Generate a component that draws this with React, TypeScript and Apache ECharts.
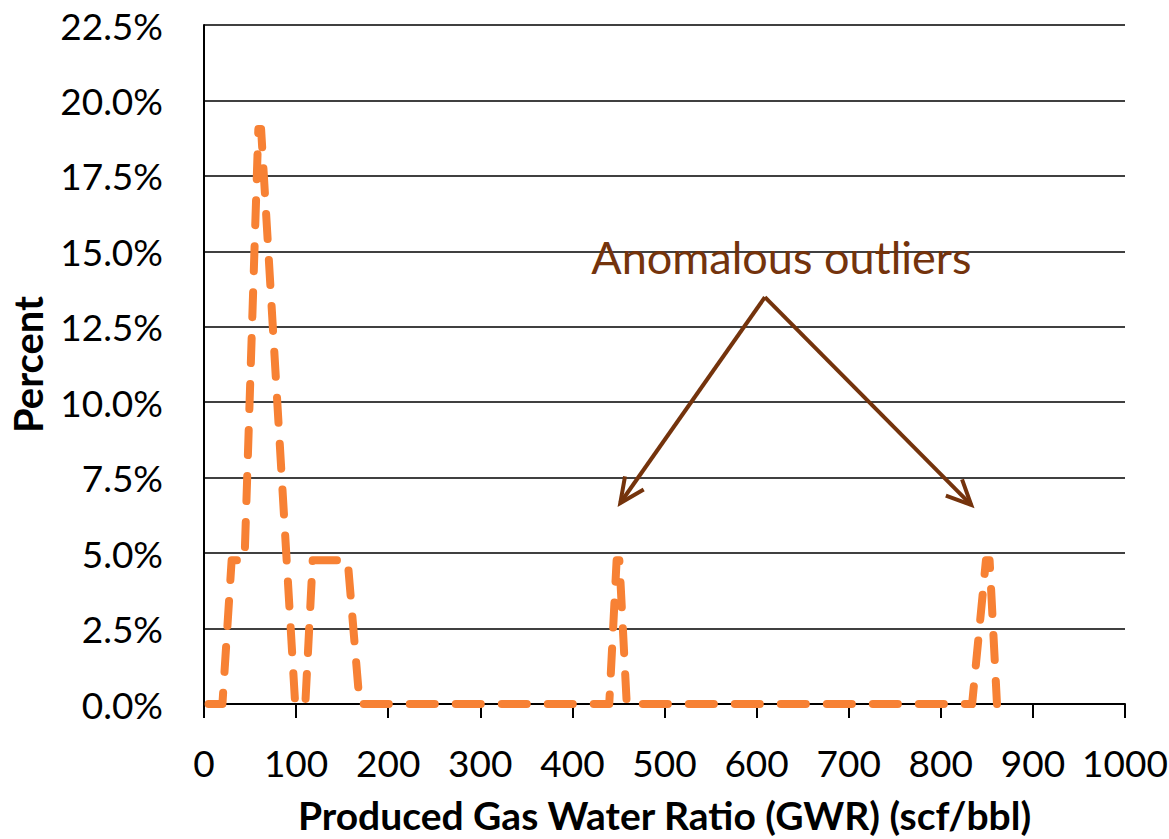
import React, { useEffect, useRef } from "react";
import * as echarts from "echarts";

// Produced gas water ratio (scf/bbl) and percent of samples
const gwrValues = [5, 20, 30, 44, 59, 62, 99, 110, 118, 156, 169, 440, 448, 451, 459, 834, 849, 853, 861];
const percentValues = [0, 0, 4.76, 4.76, 19.05, 19.05, 0, 0, 4.76, 4.76, 0, 0, 4.76, 4.76, 0, 0, 4.76, 4.76, 0];

const xTicks = [0, 100, 200, 300, 400, 500, 600, 700, 800, 900, 1000];
const yTicks = [0, 2.5, 5, 7.5, 10, 12.5, 15, 17.5, 20, 22.5];

// Annotation anchor points in data units
const annotationText = "Anomalous outliers";
const annotationTextAt = [627, 14.8];
const arrowApex = [609, 13.48];
const arrowTips = [
  [452, 6.66],
  [833, 6.6],
];

const ORANGE = "#F78134";
const BROWN = "#74330C";
const FONT = "Lato";

export default function App() {
  const ref = useRef<HTMLDivElement>(null);

  useEffect(() => {
    if (!ref.current) return;
    const chart = echarts.init(ref.current, null, { renderer: "svg" });
    const data = gwrValues.map((x, i) => [x, percentValues[i]]);
    chart.setOption({
      animation: false,
      backgroundColor: "#fff",
      grid: { left: 204, right: 44, top: 25, bottom: 135, outerBoundsMode: "none", containLabel: false },
      xAxis: {
        type: "value",
        min: xTicks[0],
        max: xTicks[xTicks.length - 1],
        interval: 100,
        name: "Produced Gas Water Ratio (GWR) (scf/bbl)",
        nameLocation: "middle",
        nameGap: 91,
        nameTextStyle: { fontFamily: FONT, fontWeight: "bold", fontSize: 39, color: "#000" },
        axisLine: { show: true, lineStyle: { color: "#000", width: 2 } },
        axisTick: { show: true, length: 14, lineStyle: { color: "#000", width: 2 } },
        splitLine: { show: false },
        axisLabel: {
          fontFamily: FONT,
          fontSize: 37,
          color: "#000",
          margin: 40,
          formatter: (v: number) => String(v),
        },
      },
      yAxis: {
        type: "value",
        min: yTicks[0],
        max: yTicks[yTicks.length - 1],
        interval: 2.5,
        name: "Percent",
        nameLocation: "middle",
        nameRotate: 90,
        nameGap: 156,
        nameTextStyle: { fontFamily: FONT, fontWeight: "bold", fontSize: 40, color: "#000" },
        axisLine: { show: true, lineStyle: { color: "#000", width: 2 } },
        axisTick: { show: false },
        splitLine: { show: true, lineStyle: { color: "#000", width: 1.5 } },
        axisLabel: {
          fontFamily: FONT,
          fontSize: 37,
          color: "#000",
          margin: 41,
          formatter: (v: number) => v.toFixed(1) + "%",
        },
      },
      series: [
        {
          type: "line",
          data,
          symbol: "none",
          lineStyle: { color: ORANGE, width: 8, type: [25, 21], cap: "round", join: "round" },
        },
      ],
    });

    const px = (p: number[]) => chart.convertToPixel({ gridIndex: 0 }, p) as number[];
    const apex = px(arrowApex);
    const graphics: any[] = [];
    arrowTips.forEach((t) => {
      const tip = px(t);
      graphics.push({
        type: "line",
        shape: { x1: apex[0], y1: apex[1], x2: tip[0], y2: tip[1] },
        style: { stroke: BROWN, lineWidth: 4 },
      });
      const dx = apex[0] - tip[0];
      const dy = apex[1] - tip[1];
      const len = Math.sqrt(dx * dx + dy * dy);
      const ux = dx / len;
      const uy = dy / len;
      const a = (25 * Math.PI) / 180;
      const L = 27;
      const rot = (ang: number) => [ux * Math.cos(ang) - uy * Math.sin(ang), ux * Math.sin(ang) + uy * Math.cos(ang)];
      const r1 = rot(a);
      const r2 = rot(-a);
      graphics.push({
        type: "polyline",
        shape: {
          points: [
            [tip[0] + r1[0] * L, tip[1] + r1[1] * L],
            [tip[0], tip[1]],
            [tip[0] + r2[0] * L, tip[1] + r2[1] * L],
          ],
        },
        style: { stroke: BROWN, lineWidth: 4, fill: null, lineJoin: "miter" },
      });
    });
    const tp = px(annotationTextAt);
    graphics.push({
      type: "text",
      x: tp[0],
      y: tp[1],
      style: {
        text: annotationText,
        fill: BROWN,
        font: `45px ${FONT}`,
        textAlign: "center",
        textVerticalAlign: "middle",
      },
    });
    chart.setOption({ graphic: graphics });

    return () => chart.dispose();
  }, []);

  return (
    <div
      ref={ref}
      style={{ position: "fixed", left: 0, top: 0, width: 1169, height: 839 }}
    />
  );
}
